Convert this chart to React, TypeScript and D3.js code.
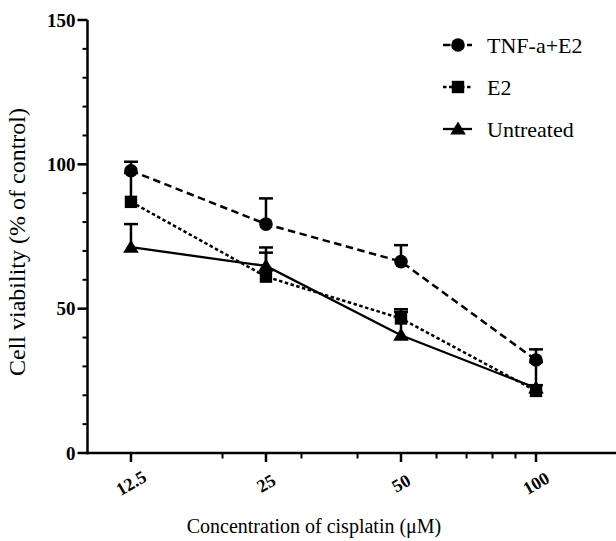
import React from "react";
import * as d3 from "d3";

const concentrations = [12.5, 25, 50, 100];
const tickLabels = ["12.5", "25", "50", "100"];
const minorTicksX = [20, 30, 40, 60, 70, 80, 90];
const yTicks = [0, 50, 100, 150];
const yMinorTicks = [10, 20, 30, 40, 60, 70, 80, 90, 110, 120, 130, 140];

const tnfValues = [97.8, 79.3, 66.3, 32.2];
const tnfErrors = [3.1, 8.9, 5.7, 3.7];
const e2Values = [87.0, 61.1, 46.6, 21.5];
const e2Errors = [10.0, 8.3, 3.2, 10.0];
const untreatedValues = [71.3, 64.8, 40.8, 22.5];
const untreatedErrors = [8.0, 6.4, 8.1, 1.0];

const seriesNames = ["TNF-a+E2", "E2", "Untreated"];

const W = 616;
const H = 541;
const FONT = "Liberation Serif, Times New Roman, serif";

export default function App() {
  const x = d3.scaleLog().domain([10, 100]).range([87.5, 536]);
  const y = d3.scaleLinear().domain([0, 150]).range([453, 20]);
  const xEnd = x(170);

  const series = [
    { name: seriesNames[2], values: untreatedValues, errors: untreatedErrors, dash: "none", width: 2.3, marker: "triangle" },
    { name: seriesNames[1], values: e2Values, errors: e2Errors, dash: "3.5,2.5", width: 2.5, marker: "square" },
    { name: seriesNames[0], values: tnfValues, errors: tnfErrors, dash: "7.5,4.5", width: 2.5, marker: "circle" },
  ];

  const line = d3
    .line<number>()
    .x((_, i) => x(concentrations[i]))
    .y((d) => y(d));

  const marker = (type: string, cx: number, cy: number, key: string) => {
    if (type === "circle") return <circle key={key} cx={cx} cy={cy} r={6.8} fill="#000" />;
    if (type === "square") return <rect key={key} x={cx - 6.2} y={cy - 6.2} width={12.4} height={12.4} fill="#000" />;
    return <path key={key} d={`M${cx},${cy - 7.5}L${cx + 7.8},${cy + 5.5}L${cx - 7.8},${cy + 5.5}Z`} fill="#000" />;
  };

  const legendItems = [
    { name: seriesNames[0], dash: "7.5,4.5", marker: "circle", width: 2.5 },
    { name: seriesNames[1], dash: "3.5,2.5", marker: "square", width: 2.5 },
    { name: seriesNames[2], dash: "none", marker: "triangle", width: 2.3 },
  ];

  return (
    <svg width={W} height={H} style={{ display: "block", position: "absolute", left: 0, top: 0, background: "#fff", fontFamily: FONT }}>
      {/* axes */}
      <line x1={x(10)} x2={x(10)} y1={y(150)} y2={y(0) + 1.25} stroke="#000" strokeWidth={2.5} />
      <line x1={x(10) - 1.25} x2={xEnd} y1={y(0)} y2={y(0)} stroke="#000" strokeWidth={2.5} />
      {yTicks.map((t) => (
        <g key={"yt" + t}>
          <line x1={x(10) - 10} x2={x(10)} y1={y(t)} y2={y(t)} stroke="#000" strokeWidth={2.5} />
          <text x={x(10) - 12} y={y(t)} dy="0.35em" textAnchor="end" style={{ fontFamily: FONT }} fontWeight="bold" fontSize={19}>
            {t}
          </text>
        </g>
      ))}
      {yMinorTicks.map((t) => (
        <line key={"ym" + t} x1={x(10) - 5} x2={x(10)} y1={y(t)} y2={y(t)} stroke="#000" strokeWidth={2} />
      ))}
      {concentrations.map((c, i) => (
        <g key={"xt" + c}>
          <line x1={x(c)} x2={x(c)} y1={y(0)} y2={y(0) + 9} stroke="#000" strokeWidth={2.5} />
          <text
            transform={`translate(${x(c)},${y(0) + 30}) rotate(-30)`}
            textAnchor="middle"
            dy="0.35em"
            style={{ fontFamily: FONT }}
            fontWeight="bold"
            fontSize={18}
          >
            {tickLabels[i]}
          </text>
        </g>
      ))}
      {minorTicksX.map((c) => (
        <line key={"xm" + c} x1={x(c)} x2={x(c)} y1={y(0)} y2={y(0) + 5.5} stroke="#000" strokeWidth={2} />
      ))}

      {/* axis titles */}
      <text x={314} y={533} textAnchor="middle" style={{ fontFamily: FONT }} fontSize={20}>
        Concentration of cisplatin (μM)
      </text>
      <text transform={`translate(25,242) rotate(-90)`} textAnchor="middle" style={{ fontFamily: FONT }} fontSize={24}>
        Cell viability (% of control)
      </text>

      {/* series */}
      {series.map((s) => (
        <g key={s.name}>
          {s.values.map((v, i) => (
            <g key={"eb" + i}>
              <line x1={x(concentrations[i])} x2={x(concentrations[i])} y1={y(v)} y2={y(v + s.errors[i])} stroke="#000" strokeWidth={2.5} />
              <line x1={x(concentrations[i]) - 7} x2={x(concentrations[i]) + 7} y1={y(v + s.errors[i])} y2={y(v + s.errors[i])} stroke="#000" strokeWidth={2.5} />
            </g>
          ))}
          <path d={line(s.values) || ""} fill="none" stroke="#000" strokeWidth={s.width} strokeDasharray={s.dash} />
          {s.values.map((v, i) => marker(s.marker, x(concentrations[i]), y(v), s.name + i))}
        </g>
      ))}

      {/* legend */}
      {legendItems.map((l, i) => {
        const ly = 45 + i * 42;
        return (
          <g key={"lg" + i}>
            <line x1={443} x2={472} y1={ly} y2={ly} stroke="#000" strokeWidth={l.width} strokeDasharray={l.dash} />
            {marker(l.marker, 458, ly, "lm" + i)}
            <text x={487} y={ly} dy="0.35em" style={{ fontFamily: FONT }} fontSize={22}>
              {l.name}
            </text>
          </g>
        );
      })}
    </svg>
  );
}
